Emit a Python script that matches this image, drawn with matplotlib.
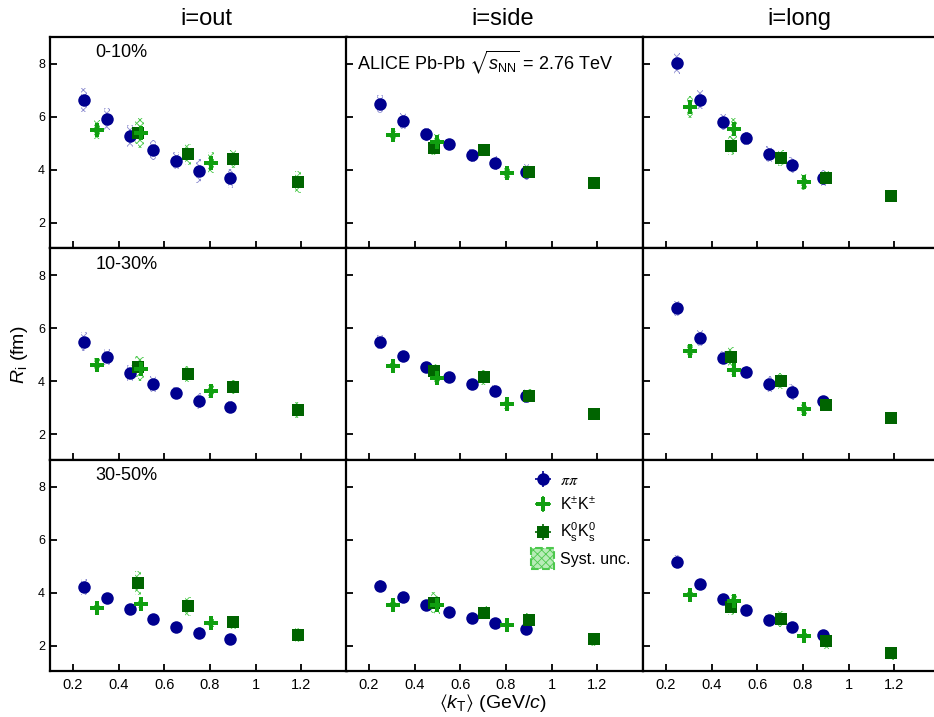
# femtoscopic radii R_out / R_side / R_long vs <kT> for three centralities

import numpy as np
import matplotlib
matplotlib.use('Agg')
import matplotlib.pyplot as plt
from matplotlib.patches import Patch, Rectangle
from matplotlib.legend_handler import HandlerPatch

plt.rcParams['font.family'] = ['Liberation Sans', 'DejaVu Sans']
plt.rcParams['mathtext.fontset'] = 'custom'
plt.rcParams['mathtext.rm'] = 'Liberation Sans'
plt.rcParams['mathtext.it'] = 'Liberation Sans:italic'
plt.rcParams['mathtext.bf'] = 'Liberation Sans:bold'
plt.rcParams['mathtext.fallback'] = 'stixsans'
plt.rcParams['hatch.linewidth'] = 0.6

# ---- data ----
directions = ['out', 'side', 'long']
centralities = ['0-10%', '10-30%', '30-50%']

kt_pi = [0.25, 0.35, 0.45, 0.55, 0.65, 0.75, 0.89]
kt_kch = [0.305, 0.497, 0.803]
kt_k0 = [0.485, 0.705, 0.90, 1.185]

# one list per centrality (0-10, 10-30, 30-50)
pi_out = [[6.64, 5.91, 5.26, 4.74, 4.34, 3.95, 3.68],
          [5.49, 4.91, 4.32, 3.89, 3.57, 3.27, 3.04],
          [4.23, 3.79, 3.37, 3.01, 2.69, 2.50, 2.27]]
pi_side = [[6.47, 5.83, 5.34, 4.96, 4.54, 4.25, 3.90],
           [5.48, 4.94, 4.53, 4.16, 3.90, 3.64, 3.44],
           [4.26, 3.85, 3.53, 3.28, 3.05, 2.84, 2.65]]
pi_long = [[8.01, 6.64, 5.81, 5.18, 4.60, 4.18, 3.70],
           [6.74, 5.64, 4.89, 4.36, 3.90, 3.61, 3.24],
           [5.17, 4.32, 3.75, 3.34, 2.97, 2.71, 2.39]]

kch_out = [[5.51, 5.39, 4.26], [4.62, 4.47, 3.62], [3.44, 3.57, 2.87]]
kch_side = [[5.30, 5.04, 3.88], [4.59, 4.13, 3.14], [3.54, 3.53, 2.77]]
kch_long = [[6.36, 5.53, 3.55], [5.15, 4.42, 2.96], [3.93, 3.68, 2.38]]

k0_out = [[5.40, 4.58, 4.39, 3.54], [4.54, 4.27, 3.78, 2.93], [4.36, 3.49, 2.89, 2.41]]
k0_side = [[4.82, 4.74, 3.91, 3.49], [4.39, 4.14, 3.46, 2.77], [3.62, 3.25, 2.98, 2.24]]
k0_long = [[4.91, 4.45, 3.70, 3.00], [4.93, 4.01, 3.11, 2.60], [3.47, 3.02, 2.19, 1.71]]

# systematic uncertainties (half heights of the boxes)
pi_out_sys = [[0.45, 0.42, 0.42, 0.38, 0.33, 0.45, 0.36],
              [0.35, 0.30, 0.30, 0.30, 0.20, 0.30, 0.20],
              [0.30, 0.20, 0.15, 0.15, 0.10, 0.20, 0.10]]
pi_side_sys = [[0.35, 0.30, 0.25, 0.20, 0.25, 0.25, 0.30],
               [0.25, 0.20, 0.20, 0.15, 0.20, 0.20, 0.25],
               [0.20, 0.10, 0.10, 0.10, 0.10, 0.15, 0.15]]
pi_long_sys = [[0.40, 0.35, 0.30, 0.25, 0.30, 0.30, 0.30],
               [0.30, 0.30, 0.25, 0.20, 0.30, 0.30, 0.20],
               [0.25, 0.20, 0.10, 0.10, 0.10, 0.15, 0.15]]
kch_out_sys = [[0.37, 0.56, 0.39], [0.25, 0.45, 0.25], [0.10, 0.15, 0.15]]
kch_side_sys = [[0.15, 0.30, 0.20], [0.10, 0.20, 0.20], [0.10, 0.35, 0.10]]
kch_long_sys = [[0.40, 0.42, 0.30], [0.25, 0.20, 0.25], [0.10, 0.25, 0.10]]
k0_out_sys = [[0.45, 0.40, 0.34, 0.42], [0.40, 0.30, 0.25, 0.30], [0.45, 0.35, 0.25, 0.25]]
k0_side_sys = [[0.25, 0.20, 0.20, 0.15], [0.25, 0.30, 0.25, 0.15], [0.40, 0.25, 0.25, 0.25]]
k0_long_sys = [[0.35, 0.30, 0.25, 0.20], [0.35, 0.30, 0.20, 0.15], [0.30, 0.30, 0.30, 0.25]]

pi_vals = {'out': pi_out, 'side': pi_side, 'long': pi_long}
kch_vals = {'out': kch_out, 'side': kch_side, 'long': kch_long}
k0_vals = {'out': k0_out, 'side': k0_side, 'long': k0_long}
pi_sys = {'out': pi_out_sys, 'side': pi_side_sys, 'long': pi_long_sys}
kch_sys = {'out': kch_out_sys, 'side': kch_side_sys, 'long': kch_long_sys}
k0_sys = {'out': k0_out_sys, 'side': k0_side_sys, 'long': k0_long_sys}

xticks = [0.2, 0.4, 0.6, 0.8, 1.0, 1.2]
xticklabels = ['0.2', '0.4', '0.6', '0.8', '1', '1.2']
yticks = [2, 4, 6, 8]

c_pi = '#00008f'
c_kch = '#109f10'
c_k0 = '#006400'
c_pi_sys = '#8c8cd0'
c_k_sys = '#4cc84c'

# ---- layout in pixels ----
W, H = 934.0, 717.0
col_left = [50, 346, 643]
col_w = 297
row_top = [37, 248.5, 460]
row_h = 211

fig = plt.figure(figsize=(W / 100, H / 100), dpi=100)
boxw = 0.026
ms_pi, ms_k0, ms_kch = 9.0, 8.8, 10.0


def syst_boxes(ax, x, y, e, col):
    y = np.array(y)
    e = np.array(e)
    ax.bar(x, 2 * e, bottom=y - e, width=boxw, facecolor='none',
           edgecolor=col, hatch='xxxxx', linewidth=0, zorder=1)


axes = {}
for r in range(3):
    for c, d in enumerate(directions):
        ax = fig.add_axes([col_left[c] / W, 1 - (row_top[r] + row_h) / H,
                           col_w / W, row_h / H])
        axes[(r, c)] = ax
        ax.set_xlim(0.1, 1.4)
        ax.set_ylim(1.05, 9.0)
        ax.set_xticks(xticks)
        ax.set_yticks(yticks)
        ax.tick_params(direction='in', length=5, width=1.3, top=False, right=False,
                       labelsize=9)
        ax.tick_params(axis='x', labelsize=10.5, pad=5)
        if r == 2:
            ax.set_xticklabels(xticklabels)
        else:
            ax.set_xticklabels([])
        if c != 0:
            ax.set_yticklabels([])
        for s in ax.spines.values():
            s.set_linewidth(1.6)

        syst_boxes(ax, kt_pi, pi_vals[d][r], pi_sys[d][r], c_pi_sys)
        syst_boxes(ax, kt_kch, kch_vals[d][r], kch_sys[d][r], c_k_sys)
        syst_boxes(ax, kt_k0, k0_vals[d][r], k0_sys[d][r], c_k_sys)

        ax.plot(kt_pi, pi_vals[d][r], 'o', color=c_pi, ms=ms_pi, mew=0, zorder=3)
        ax.plot(kt_k0, k0_vals[d][r], 's', color=c_k0, ms=ms_k0, mew=0, zorder=4)
        ax.plot(kt_kch, kch_vals[d][r], 'P', color=c_kch, ms=ms_kch, mew=0, zorder=5)

        if c == 0:
            ax.text(0.152, 0.925, centralities[r], transform=ax.transAxes,
                    fontsize=13, ha='left', va='center')

# column titles
for c, d in enumerate(directions):
    fig.text((col_left[c] + col_w / 2 + 8) / W, 1 - 25 / H, 'i=' + d,
             fontsize=17, ha='center', va='baseline')

# ALICE label
axes[(0, 1)].text(0.037, 0.847, r'ALICE Pb-Pb $\sqrt{s_{\rm NN}}$ = 2.76 TeV',
                  transform=axes[(0, 1)].transAxes, fontsize=13,
                  ha='left', va='baseline')

# axis labels
fig.text(20 / W, 1 - 355 / H, r'$R_{\rm i}$ (fm)', rotation=90,
         fontsize=14, ha='center', va='center')
fig.text(493 / W, 1 - 708 / H, r'$\langle k_{\rm T}\rangle$ (GeV/$c$)',
         fontsize=14, ha='center', va='baseline')


# legend in the middle bottom panel
def tall_box(legend, orig_handle, xdescent, ydescent, width, height, fontsize):
    w = 0.9 * width
    h = 15.0
    return Rectangle((-xdescent + (width - w) / 2, -ydescent + height / 2 - h / 2), w, h)


lax = axes[(2, 1)]
h_pi = lax.errorbar([np.nan], [np.nan], xerr=[1], yerr=[1], fmt='o', color=c_pi,
                    ms=ms_pi, mew=0, elinewidth=1.2)
h_kch = lax.errorbar([np.nan], [np.nan], xerr=[1], yerr=[1], fmt='P', color=c_kch,
                     ms=ms_kch, mew=0, elinewidth=1.2)
h_k0 = lax.errorbar([np.nan], [np.nan], xerr=[1], yerr=[1], fmt='s', color=c_k0,
                    ms=ms_k0, mew=0, elinewidth=1.2)
h_sys = Patch(facecolor='#b8ecb8', edgecolor=c_k_sys, hatch='xxxx', linewidth=1.5,
              linestyle='--')
leg = lax.legend([h_pi, h_kch, h_k0, h_sys],
                 [r'$\pi\pi$', r'K$^{\pm}$K$^{\pm}$', r'K$^{0}_{\rm s}$K$^{0}_{\rm s}$',
                  'Syst. unc.'],
                 loc='upper left', bbox_to_anchor=(0.62, 0.94), frameon=False,
                 fontsize=11.5, handlelength=1.6, handletextpad=0.3,
                 labelspacing=0.5, borderpad=0, borderaxespad=0,
                 handler_map={Patch: HandlerPatch(patch_func=tall_box)})
leg.get_texts()[0].set_math_fontfamily('stix')

fig.savefig('out.png', dpi=100)
